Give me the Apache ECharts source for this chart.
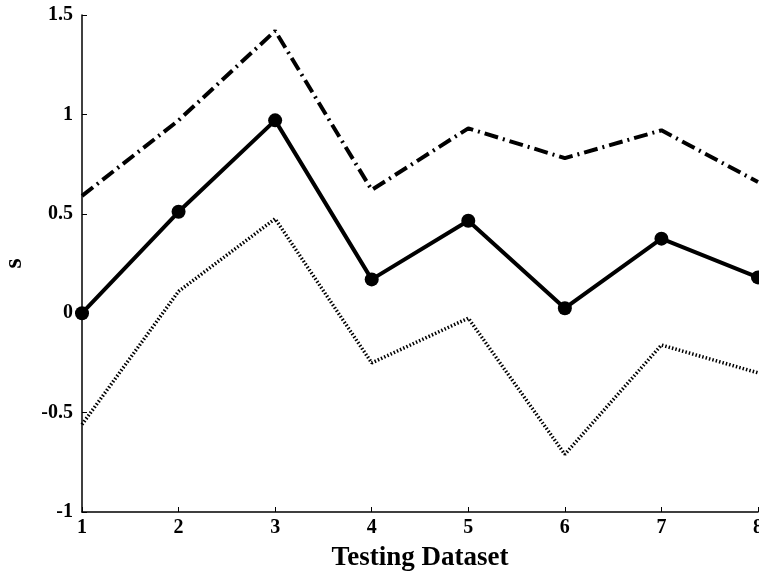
<!DOCTYPE html>
<html>
<head>
<meta charset="utf-8">
<script src="https://cdn.jsdelivr.net/npm/echarts@6/dist/echarts.min.js"></script>
<style>
    html, body { margin: 0; padding: 0; background: #fff; }
    #main { width: 759px; height: 578px; }
</style>
</head>
<body>
<div id="main"></div>
<script>
// x 轴数据集编号
var datasets = [1, 2, 3, 4, 5, 6, 7, 8];
// 上界 (点划线)
var upperVals = [0.59, 0.97, 1.42, 0.62, 0.93, 0.78, 0.92, 0.66];
// 均值 (实线+圆点)
var meanVals = [0.0, 0.51, 0.97, 0.17, 0.465, 0.025, 0.375, 0.18];
// 下界 (点线)
var lowerVals = [-0.56, 0.11, 0.475, -0.25, -0.025, -0.71, -0.16, -0.30];

var serif = "'Liberation Serif', 'Times New Roman', serif";

function pairs(vals) {
    return datasets.map(function (x, i) { return [x, vals[i]]; });
}

var myChart = echarts.init(document.getElementById('main'));

var option = {
    backgroundColor: '#fff',
    animation: false,
    grid: { left: 82, right: 1, top: 15, bottom: 66, containLabel: false, outerBoundsMode: 'none' },
    xAxis: {
        type: 'value',
        min: 1,
        max: 8,
        interval: 1,
        name: 'Testing Dataset',
        nameLocation: 'middle',
        nameGap: 33,
        nameTextStyle: { fontFamily: serif, fontWeight: 'bold', fontSize: 27, color: '#000' },
        axisLine: { onZero: false, lineStyle: { color: '#000', width: 1.5 } },
        axisTick: { inside: true, length: 5, lineStyle: { color: '#000' } },
        axisLabel: { fontFamily: serif, fontWeight: 'bold', fontSize: 20, color: '#000', margin: 6 },
        splitLine: { show: false }
    },
    yAxis: {
        type: 'value',
        min: -1,
        max: 1.5,
        interval: 0.5,
        name: 's',
        nameLocation: 'middle',
        nameGap: 55,
        nameRotate: 90,
        nameTextStyle: { fontFamily: serif, fontWeight: 'bold', fontSize: 26, color: '#000' },
        axisLine: { show: true, lineStyle: { color: '#000', width: 1.5 } },
        axisTick: { show: true, inside: true, length: 5, lineStyle: { color: '#000' } },
        axisLabel: { fontFamily: serif, fontWeight: 'bold', fontSize: 20, color: '#000', margin: 9 },
        splitLine: { show: false }
    },
    series: [
        {
            name: 'upper',
            type: 'line',
            data: pairs(upperVals),
            showSymbol: false,
            symbol: 'none',
            clip: false,
            lineStyle: { color: '#000', width: 4, type: [14, 5, 2, 5] }
        },
        {
            name: 'mean',
            type: 'line',
            data: pairs(meanVals),
            symbol: 'circle',
            symbolSize: 14,
            clip: false,
            itemStyle: { color: '#000' },
            lineStyle: { color: '#000', width: 4 }
        },
        {
            name: 'lower',
            type: 'line',
            data: pairs(lowerVals),
            showSymbol: false,
            symbol: 'none',
            clip: false,
            lineStyle: { color: '#000', width: 3.5, type: [1.5, 2] }
        }
    ]
};

myChart.setOption(option);
</script>
</body>
</html>
